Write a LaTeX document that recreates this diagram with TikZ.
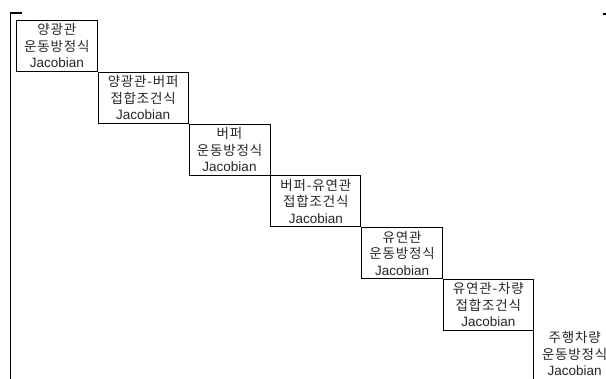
\documentclass[tikz,border=0pt]{standalone}
\usepackage{fontspec}
\setmainfont{Liberation Sans}
\newfontfamily\krfont[LetterSpace=6]{Noto Sans CJK KR}
\begin{document}
\begin{tikzpicture}[x=1pt,y=-1pt,
  blk/.style={draw=black, line width=0.8pt, minimum width=#1, minimum height=51pt,
    anchor=north west, inner sep=0pt, align=center, text=black!85,
    font=\fontsize{13.5}{16.5}\selectfont},
  open/.style={blk=#1, draw=none},
  brk/.style={line width=1.3pt, black}]
\useasboundingbox (0,0) rectangle (606,379);
% blocks
\node[blk=81pt] (b1) at (16,20) {{\krfont 양광관}\\{\krfont 운동방정식}\\Jacobian};
\node[blk=90pt] (b2) at (b1.south east) {{\krfont 양광관-버퍼}\\{\krfont 접합조건식}\\Jacobian};
\node[blk=81pt] (b3) at (b2.south east) {{\krfont 버퍼}\\{\krfont 운동방정식}\\Jacobian};
\node[blk=90pt] (b4) at (b3.south east) {{\krfont 버퍼-유연관}\\{\krfont 접합조건식}\\Jacobian};
\node[blk=81pt] (b5) at (b4.south east) {{\krfont 유연관}\\{\krfont 운동방정식}\\Jacobian};
\node[blk=90pt] (b6) at (b5.south east) {{\krfont 유연관-차량}\\{\krfont 접합조건식}\\Jacobian};
\node[open=81pt, yshift=3pt] (b7) at (b6.south east) {{\krfont 주행차량}\\{\krfont 운동방정식}\\Jacobian};
% matrix brackets
\coordinate (lt) at (22,13);
\coordinate (lc) at (10.7,13);
\coordinate (lb) at (10.7,379);
\draw[line width=0.8pt] (b6.south east) -- (b6.south east |- lb);
\draw[brk] (lt) -- (lc) -- (lb);
\coordinate (rt1) at (603,14);
\coordinate (rt2) at (606,14);
\draw[brk] (rt1) -- (rt2);
\end{tikzpicture}
\end{document}
